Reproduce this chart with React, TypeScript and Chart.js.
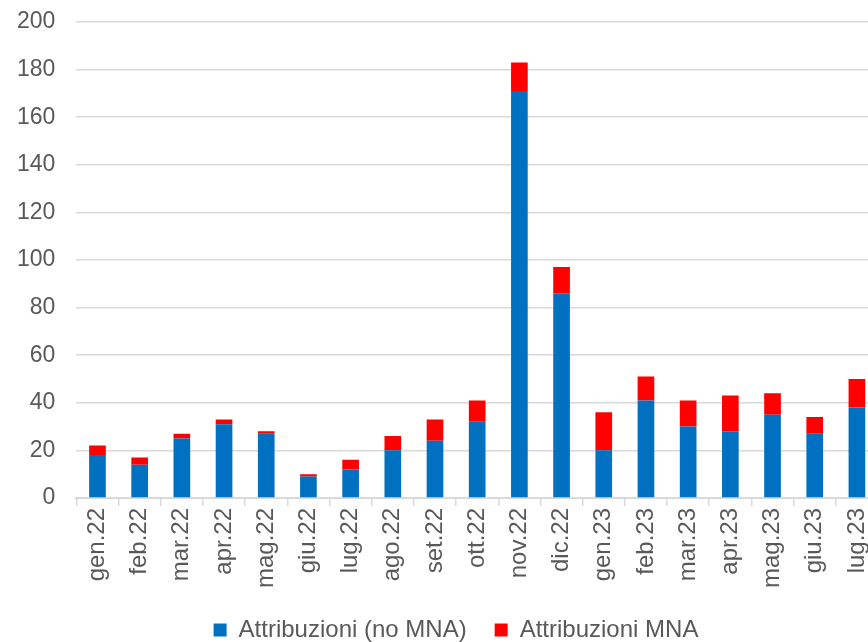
import React, { useEffect, useRef } from "react";
import { Chart, registerables } from "chart.js";

Chart.register(...registerables);

const categories = [
  "gen.22", "feb.22", "mar.22", "apr.22", "mag.22", "giu.22", "lug.22", "ago.22", "set.22", "ott.22",
  "nov.22", "dic.22", "gen.23", "feb.23", "mar.23", "apr.23", "mag.23", "giu.23", "lug.23",
];
const attribuzioniNoMNA = [18, 14, 25, 31, 27, 9, 12, 20, 24, 32, 171, 86, 20, 41, 30, 28, 35, 27, 38];
const attribuzioniMNA = [4, 3, 2, 2, 1, 1, 4, 6, 9, 9, 12, 11, 16, 10, 11, 15, 9, 7, 12];
const seriesLabels = ["Attribuzioni (no MNA)", "Attribuzioni MNA"];
const yMin = 0;
const yMax = 200;
const yStep = 20;

const FONT = "'Liberation Sans', Arial, sans-serif";
const TEXT = "#595959";
const GRID = "#d9d9d9";

const legendShift = {
  id: "legendShift",
  afterLayout(chart: any) {
    if (chart.legend) {
      chart.legend.left += 19;
      chart.legend.right += 19;
    }
  },
};

export default function App() {
  const ref = useRef<HTMLCanvasElement | null>(null);
  useEffect(() => {
    if (!ref.current) return;
    const chart = new Chart(ref.current, {
      type: "bar",
      data: {
        labels: categories,
        datasets: [
          {
            label: seriesLabels[0],
            data: attribuzioniNoMNA,
            backgroundColor: "#0070C0",
            borderWidth: 0,
            categoryPercentage: 1,
            barPercentage: 0.395,
          },
          {
            label: seriesLabels[1],
            data: attribuzioniMNA,
            backgroundColor: "#FF0000",
            borderWidth: 0,
            categoryPercentage: 1,
            barPercentage: 0.395,
          },
        ],
      },
      plugins: [legendShift],
      options: {
        responsive: false,
        animation: false,
        devicePixelRatio: 1,
        layout: { padding: { top: 0, left: -4, right: 34, bottom: 0 } },
        plugins: {
          tooltip: { enabled: false },
          legend: {
            position: "bottom",
            labels: {
              boxWidth: 13,
              boxHeight: 13,
              padding: 28,
              color: TEXT,
              font: { family: FONT, size: 24 },
            },
          },
        },
        scales: {
          x: {
            stacked: true,
            grid: {
              drawOnChartArea: false,
              drawTicks: true,
              tickLength: 8,
              color: GRID,
              lineWidth: 1.5,
            },
            border: { display: true, color: GRID, width: 2 },
            ticks: {
              autoSkip: false,
              minRotation: 90,
              maxRotation: 90,
              padding: 2,
              color: TEXT,
              font: { family: FONT, size: 24 },
            },
          },
          y: {
            stacked: true,
            min: yMin,
            max: yMax,
            afterFit: (scale: any) => {
              scale.paddingTop = 22;
            },
            ticks: {
              stepSize: yStep,
              padding: 21,
              color: TEXT,
              font: { family: FONT, size: 23 },
            },
            grid: { drawTicks: false, color: GRID, lineWidth: 1.5 },
            border: { display: false },
          },
        },
      },
    });
    return () => chart.destroy();
  }, []);
  return (
    <div
      style={{
        position: "fixed",
        left: 0,
        top: 0,
        width: 868,
        height: 642,
        overflow: "hidden",
        background: "#fff",
      }}
    >
      <canvas ref={ref} width={912} height={652} style={{ display: "block" }} />
    </div>
  );
}
